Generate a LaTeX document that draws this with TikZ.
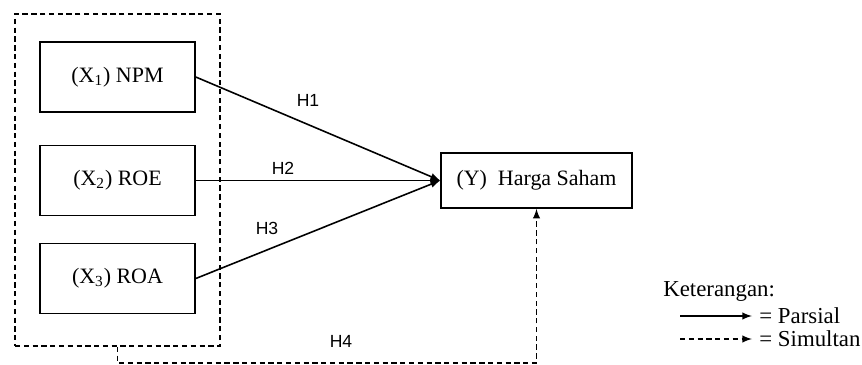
\documentclass[tikz,border=0pt]{standalone}
\usepackage{fontspec}
\setmainfont{Liberation Serif}
\setsansfont{Liberation Sans}
\usetikzlibrary{arrows, positioning}
\tikzset{>=latex}
\tikzset{varbox/.style = {draw, line width = 0.9pt, minimum width = 3.1cm, minimum height = 1.4cm, inner sep = 0pt, font = \fontsize{12.5}{14}\selectfont},
         hlabel/.style = {font = \sffamily\fontsize{10}{12}\selectfont},
         simul/.style = {dash pattern = on 3pt off 2pt, line width = 0.9pt}}

\begin{document}
\begin{tikzpicture}[x = 0.02cm, y = -0.02cm]

\useasboundingbox (0,0) rectangle (862,365);

% variabel X
\node[draw, simul, minimum width = 4.1cm, minimum height = 6.64cm] (grp) at (117.5, 180) {};
\node[varbox] (npm) at (117.5, 77) {(X\textsubscript{1}) NPM};
\node[varbox] (roe) at (117.5, 180.5) {(X\textsubscript{2}) ROE};
\node[varbox] (roa) at (117.5, 278.5) {(X\textsubscript{3}) ROA};

% variabel Y
\node[varbox, minimum width = 3.82cm, minimum height = 1.1cm] (hy) at (536.5, 180.5) {(Y)\ \ Harga Saham};

\draw[->, line width = 0.9pt] (npm.east) -- (hy.west);
\draw[->, line width = 0.9pt] (roe.east) -- (hy.west);
\draw[->, line width = 0.9pt] (roa.east) -- (hy.west);
\node[hlabel] (h1) at (308, 100) {H1};
\node[hlabel] (h2) at (283, 168) {H2};
\node[hlabel] (h3) at (267, 228) {H3};

\draw[->, simul] (grp.south) -- ++(0, 16) -| (hy.south);
\node[hlabel] (h4) at (341, 341) {H4};

% keterangan
\begin{scope}[font = \fontsize{13}{15}\selectfont]
\node[anchor = west, inner sep = 0pt] (ket) at (663, 291) {Keterangan:};
\coordinate (pa) at (680, 316);
\coordinate (pb) at (752, 316);
\coordinate (sa) at (680, 339);
\coordinate (sb) at (752, 339);
\draw[->, line width = 0.9pt] (pa) -- (pb);
\draw[->, simul] (sa) -- (sb);
\node[anchor = west, inner sep = 0pt] (par) at (759, 316) {= Parsial};
\node[anchor = west, inner sep = 0pt] (sim) at (759, 339) {= Simultan};
\end{scope}

\end{tikzpicture}
\end{document}
